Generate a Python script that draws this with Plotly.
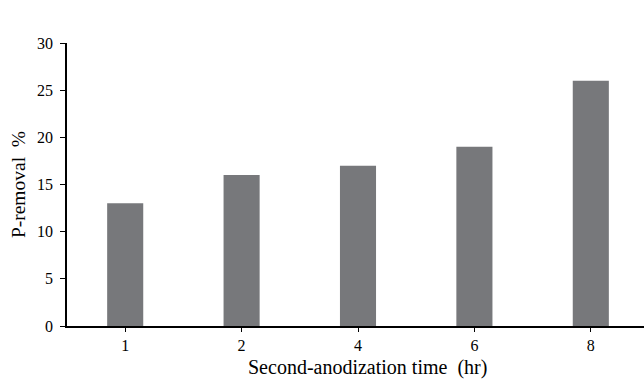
import plotly.graph_objects as go

categories = ["1", "2", "4", "6", "8"]
p_removal = [13, 16, 17, 19, 26]
y_ticks = [0, 5, 10, 15, 20, 25, 30]

fig = go.Figure(go.Bar(x=categories, y=p_removal, marker_color="#77787b",
                       marker_line_width=0, width=0.31))
font = dict(family="Liberation Serif", size=16, color="black")
fig.update_layout(
    width=644, height=385, margin=dict(l=67, r=0, t=43, b=59),
    plot_bgcolor="white", paper_bgcolor="white", font=font, showlegend=False,
    xaxis=dict(type="category", range=[-0.5, 4.457], showline=True, linecolor="black",
               linewidth=1.5, ticks="outside", ticklen=4, tickcolor="black"),
    yaxis=dict(range=[0, 30], tickvals=y_ticks, showline=True, linecolor="black",
               linewidth=1.5, ticks="outside", ticklen=5, tickcolor="black",
               ticklabelstandoff=4, showgrid=False, zeroline=False,
               title=dict(text="P-removal\u00a0 %", font=dict(size=19.5), standoff=6)),
    annotations=[dict(text="Second-anodization time\u00a0 (hr)", xref="paper", yref="paper",
                      x=0.52, y=-0.148, xanchor="center", yanchor="middle",
                      showarrow=False, font=dict(size=20))],
)
fig.write_html("out.html", config={"displayModeBar": False},
               post_script="document.body.style.margin='0';document.body.style.overflow='hidden';")
